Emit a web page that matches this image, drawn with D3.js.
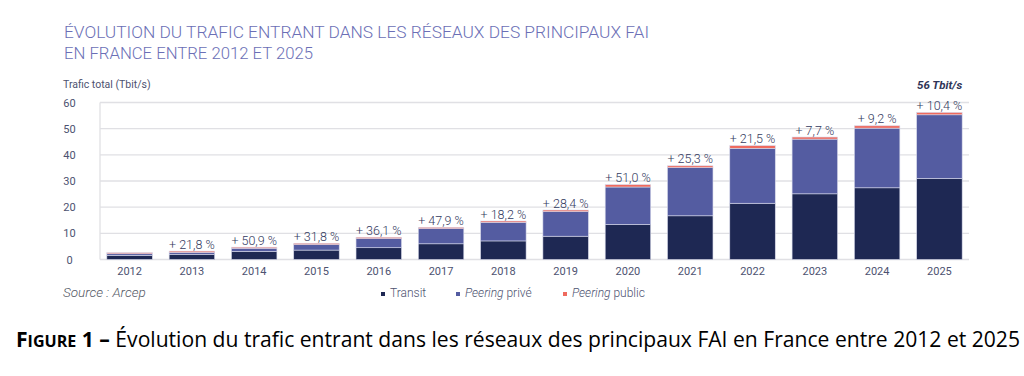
<!DOCTYPE html>
<html>
<head>
<meta charset="utf-8">
<script src="https://cdn.jsdelivr.net/npm/d3@7"></script>
<style>
  body { margin: 0; background: #fff; }
  svg { display: block; }
</style>
</head>
<body>
<div id="chart"></div>
<script>
// Data (Tbit/s)
const years = ["2012", "2013", "2014", "2015", "2016", "2017", "2018", "2019", "2020", "2021", "2022", "2023", "2024", "2025"];
const transit = [1.6, 2.0, 3.1, 3.6, 4.5, 6.0, 7.1, 8.9, 13.4, 16.7, 21.5, 25.1, 27.4, 31.0];
const peeringPrive = [0.6, 0.7, 1.2, 2.1, 3.5, 5.8, 7.1, 9.4, 14.3, 18.4, 21.0, 20.9, 22.8, 24.3];
const peeringPublic = [0.4, 0.5, 0.4, 0.5, 0.5, 0.5, 0.5, 0.6, 0.9, 0.7, 1.0, 0.8, 0.9, 0.9];
const growth = ["", "+ 21,8 %", "+ 50,9 %", "+ 31,8 %", "+ 36,1 %", "+ 47,9 %", "+ 18,2 %", "+ 28,4 %", "+ 51,0 %", "+ 25,3 %", "+ 21,5 %", "+ 7,7 %", "+ 9,2 %", "+ 10,4 %"];
const yTicks = [0, 10, 20, 30, 40, 50, 60];
const seriesKeys = ["transit", "prive", "public"];
const seriesColors = ["#1e2853", "#545ca1", "#ef6a5e"];

const width = 1024, height = 376;
const font = "Roboto, 'Noto Sans', sans-serif";

const svg = d3.select("#chart").append("svg")
    .attr("width", width)
    .attr("height", height);

// Title (two lines)
const title = svg.append("g")
    .attr("font-family", font)
    .attr("font-size", 16)
    .attr("font-weight", 300)
    .attr("fill", "#6b6fb6");
title.append("text").attr("x", 64).attr("y", 37.5)
    .attr("textLength", 585).attr("lengthAdjust", "spacingAndGlyphs")
    .text("ÉVOLUTION DU TRAFIC ENTRANT DANS LES RÉSEAUX DES PRINCIPAUX FAI");
title.append("text").attr("x", 64).attr("y", 58.5)
    .attr("textLength", 249).attr("lengthAdjust", "spacingAndGlyphs")
    .text("EN FRANCE ENTRE 2012 ET 2025");

// Scales
const x = d3.scaleBand()
    .domain(years)
    .range([100, 969])
    .paddingInner(0.27)
    .paddingOuter(0.11);

const y = d3.scaleLinear()
    .domain([0, 60])
    .range([259.5, 102.5]);

// Gridlines
svg.append("g")
    .selectAll("line")
    .data(yTicks)
    .join("line")
    .attr("x1", 100)
    .attr("x2", 969)
    .attr("y1", d => y(d))
    .attr("y2", d => y(d))
    .attr("stroke", "#e0e0e4")
    .attr("stroke-width", 1.3);

// left frame line
svg.append("line")
    .attr("x1", 100).attr("x2", 100)
    .attr("y1", y(60)).attr("y2", y(0))
    .attr("stroke", "#e0e0e4")
    .attr("stroke-width", 1.3);

// Y tick labels
svg.append("g")
    .attr("font-family", font)
    .attr("font-size", 11)
    .attr("fill", "#4d5270")
    .attr("text-anchor", "middle")
    .selectAll("text")
    .data(yTicks)
    .join("text")
    .attr("x", 69.5)
    .attr("y", d => y(d) + 4)
    .text(d => d);

svg.append("text")
    .attr("x", 63).attr("y", 88)
    .attr("font-family", font)
    .attr("font-size", 10.5)
    .attr("fill", "#4d5270")
    .text("Trafic total (Tbit/s)");

// Stacked bars
const table = years.map((yr, i) => ({
    year: yr,
    transit: transit[i],
    prive: peeringPrive[i],
    public: peeringPublic[i]
}));
const stacked = d3.stack().keys(seriesKeys)(table);

svg.append("g")
    .selectAll("g")
    .data(stacked)
    .join("g")
    .attr("fill", (d, i) => seriesColors[i])
    .selectAll("rect")
    .data(d => d)
    .join("rect")
    .attr("x", d => x(d.data.year))
    .attr("y", d => y(d[1]))
    .attr("width", x.bandwidth())
    .attr("height", d => y(d[0]) - y(d[1]))
    .attr("stroke", "#d6d8ea")
    .attr("stroke-width", 0.6);

// Growth labels above bars
const totals = table.map(d => d.transit + d.prive + d.public);
svg.append("g")
    .attr("font-family", font)
    .attr("font-size", 12.5)
    .attr("font-weight", 300)
    .attr("fill", "#333a60")
    .attr("text-anchor", "middle")
    .selectAll("text")
    .data(years)
    .join("text")
    .attr("x", d => x(d) + x.bandwidth() / 2)
    .attr("y", (d, i) => y(totals[i]) - 2.5)
    .text((d, i) => growth[i]);

// X axis labels
svg.append("g")
    .attr("font-family", font)
    .attr("font-size", 11)
    .attr("fill", "#4d5270")
    .attr("text-anchor", "middle")
    .selectAll("text")
    .data(years)
    .join("text")
    .attr("x", d => x(d) + x.bandwidth() / 2)
    .attr("y", 275)
    .text(d => d);

// 56 Tbit/s annotation
svg.append("text")
    .attr("x", x("2025") + x.bandwidth())
    .attr("y", 89)
    .attr("text-anchor", "end")
    .attr("font-family", font)
    .attr("font-size", 11.5)
    .attr("font-weight", "bold")
    .attr("font-style", "italic")
    .attr("fill", "#2f3558")
    .text("56 Tbit/s");

// Source
svg.append("text")
    .attr("x", 63).attr("y", 297)
    .attr("font-family", font)
    .attr("font-size", 13.5)
    .attr("font-weight", 300)
    .attr("font-style", "italic")
    .attr("fill", "#555a66")
    .text("Source : Arcep");

// Legend
const legendX = [381, 456, 563];
const legend = svg.append("g")
    .attr("font-family", font)
    .attr("font-size", 12)
    .attr("font-weight", 300)
    .attr("fill", "#4d5270");
legendX.forEach((lx, i) => {
    legend.append("rect")
        .attr("x", lx).attr("y", 292)
        .attr("width", 4).attr("height", 4)
        .attr("fill", seriesColors[i]);
});
legend.append("text").attr("x", legendX[0] + 9).attr("y", 297).text("Transit");
const t2 = legend.append("text").attr("x", legendX[1] + 9).attr("y", 297);
t2.append("tspan").attr("font-style", "italic").text("Peering");
t2.append("tspan").text(" privé");
const t3 = legend.append("text").attr("x", legendX[2] + 9).attr("y", 297);
t3.append("tspan").attr("font-style", "italic").text("Peering");
t3.append("tspan").text(" public");

// Figure caption
const cap = svg.append("text")
    .attr("x", 16).attr("y", 347)
    .attr("font-family", "'Open Sans', 'Noto Sans', sans-serif")
    .attr("font-size", 21)
    .attr("fill", "#000")
    .attr("textLength", 1004)
    .attr("lengthAdjust", "spacingAndGlyphs");
cap.append("tspan").attr("font-weight", "bold").text("F");
cap.append("tspan").attr("font-weight", "bold").attr("font-size", 16).text("IGURE");
cap.append("tspan").attr("font-weight", "bold").text(" 1 –");
cap.append("tspan").text(" Évolution du trafic entrant dans les réseaux des principaux FAI en France entre 2012 et 2025");
</script>
</body>
</html>
